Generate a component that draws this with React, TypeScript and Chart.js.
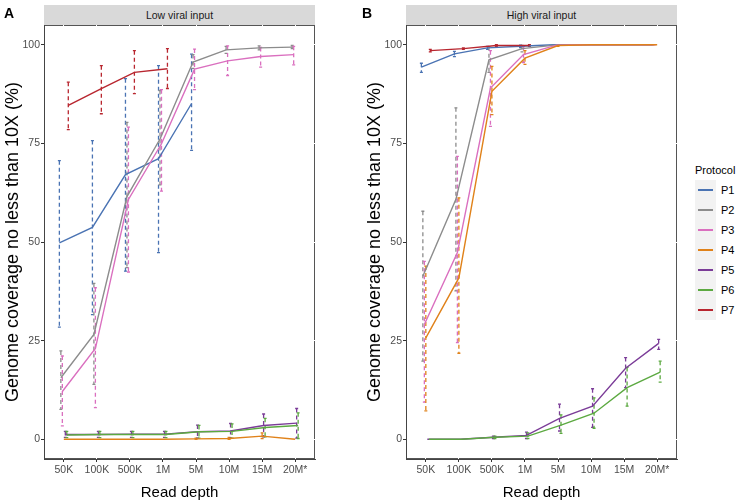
import React, { useEffect, useRef } from 'react';
import { Chart, registerables } from 'chart.js';

Chart.register(...registerables);

// ---------- data ----------
const categories = ['50K', '100K', '500K', '1M', '5M', '10M', '15M', '20M*'];
const protocols = ['P1', 'P2', 'P3', 'P4', 'P5', 'P6', 'P7'];
const colors = ['#4a73b3', '#8c8c8c', '#da6fbf', '#e0821a', '#7b3c98', '#5ca941', '#b8262f'];
const yTickValues = [0, 25, 50, 75, 100];

// Low viral input
const lowP1Mean = [49.8, 53.7, 67.1, 71.1, 85.1, null, null, null];
const lowP1Lo = [28.4, 31.6, 42.6, 47.3, 73.2, null, null, null];
const lowP1Hi = [70.6, 75.7, 91.4, 94.7, 97.6, null, null, null];
const lowP2Mean = [15.6, 26.6, 61.5, 76.1, 95.6, 98.7, 99.2, 99.4];
const lowP2Lo = [7.6, 13.9, 43.5, 64.5, 94.0, 97.8, 98.7, 99.0];
const lowP2Hi = [22.4, 39.5, 80.3, 88.4, 97.5, 99.6, 99.7, 99.8];
const lowP3Mean = [12.1, 23.0, 60.8, 74.9, 93.8, 95.9, 97.0, 97.5];
const lowP3Lo = [3.4, 8.0, 42.4, 62.9, 88.6, 92.2, 94.3, 94.9];
const lowP3Hi = [21.1, 38.4, 79.1, 88.6, 98.9, 99.7, 99.3, 99.6];
const lowP4Mean = [0, 0, 0, 0, 0.1, 0.2, 0.8, 0];
const lowP4Lo = [0, 0, 0, 0, 0, 0, 0.2, 0];
const lowP4Hi = [0, 0, 0, 0, 0.3, 0.5, 1.6, 0];
const lowP5Mean = [1.2, 1.2, 1.3, 1.3, 1.9, 2.1, 3.5, 4.1];
const lowP5Lo = [0.5, 0.5, 0.5, 0.5, 0.3, 0.3, 0.6, 0.3];
const lowP5Hi = [2.0, 2.0, 2.0, 2.0, 3.6, 4.0, 6.4, 7.8];
const lowP6Mean = [1.1, 1.2, 1.2, 1.2, 1.9, 2.0, 3.0, 3.5];
const lowP6Lo = [0.4, 0.4, 0.4, 0.4, 0.3, 0.3, 0.6, 0.2];
const lowP6Hi = [2.0, 2.0, 2.0, 2.0, 3.5, 3.9, 5.3, 6.7];
const lowP7Mean = [84.6, 88.9, 93.0, 93.9, null, null, null, null];
const lowP7Lo = [78.5, 82.5, 87.6, 88.9, null, null, null, null];
const lowP7Hi = [90.5, 94.7, 98.5, 99.0, null, null, null, null];

// High viral input
const highP1Mean = [94.3, 97.7, 99.2, 99.6, 100, 100, 100, 100];
const highP1Lo = [93.0, 97.0, 98.8, 99.3, 100, 100, 100, 100];
const highP1Hi = [95.3, 98.3, 99.6, 99.9, 100, 100, 100, 100];
const highP2Mean = [41.3, 60.8, 96.2, 99.0, 99.9, 100, 100, 100];
const highP2Lo = [19.8, 37.6, 93.0, 98.2, 99.7, 100, 100, 100];
const highP2Hi = [57.8, 84.0, 99.5, 99.8, 100, 100, 100, 100];
const highP3Mean = [29.1, 47.3, 89.0, 97.5, 99.9, 100, 100, 100];
const highP3Lo = [9.4, 24.5, 79.3, 95.5, 99.7, 100, 100, 100];
const highP3Hi = [45.1, 71.7, 98.5, 99.5, 100, 100, 100, 100];
const highP4Mean = [25.7, 40.9, 88.2, 96.6, 99.8, 100, 100, 100];
const highP4Lo = [7.2, 21.8, 82.3, 95.0, 99.6, 100, 100, 100];
const highP4Hi = [43.9, 61.2, 94.5, 98.5, 100, 100, 100, 100];
const highP5Mean = [0, 0, 0.5, 1.0, 5.3, 8.4, 18.0, 24.3];
const highP5Lo = [0, 0, 0.2, 0.2, 2.1, 3.0, 13.1, 22.8];
const highP5Hi = [0, 0, 0.8, 1.8, 8.9, 12.8, 20.7, 25.3];
const highP6Mean = [0, 0, 0.5, 0.8, 3.6, 6.6, 13.1, 17.0];
const highP6Lo = [0, 0, 0.2, 0.2, 1.5, 2.8, 8.4, 14.5];
const highP6Hi = [0, 0, 0.8, 1.6, 6.2, 10.5, 18.2, 19.8];
const highP7Mean = [98.5, 99.0, 99.8, 99.8, null, null, null, null];
const highP7Lo = [98.2, 98.8, 99.6, 99.6, null, null, null, null];
const highP7Hi = [98.8, 99.2, 100, 100, null, null, null, null];

type Arr = (number | null)[];
type Series = { mean: Arr; lo: Arr; hi: Arr };

const lowSeries: Series[] = [
  { mean: lowP1Mean, lo: lowP1Lo, hi: lowP1Hi },
  { mean: lowP2Mean, lo: lowP2Lo, hi: lowP2Hi },
  { mean: lowP3Mean, lo: lowP3Lo, hi: lowP3Hi },
  { mean: lowP4Mean, lo: lowP4Lo, hi: lowP4Hi },
  { mean: lowP5Mean, lo: lowP5Lo, hi: lowP5Hi },
  { mean: lowP6Mean, lo: lowP6Lo, hi: lowP6Hi },
  { mean: lowP7Mean, lo: lowP7Lo, hi: lowP7Hi },
];
const highSeries: Series[] = [
  { mean: highP1Mean, lo: highP1Lo, hi: highP1Hi },
  { mean: highP2Mean, lo: highP2Lo, hi: highP2Hi },
  { mean: highP3Mean, lo: highP3Lo, hi: highP3Hi },
  { mean: highP4Mean, lo: highP4Lo, hi: highP4Hi },
  { mean: highP5Mean, lo: highP5Lo, hi: highP5Hi },
  { mean: highP6Mean, lo: highP6Lo, hi: highP6Hi },
  { mean: highP7Mean, lo: highP7Lo, hi: highP7Hi },
];

const DODGE = 0.045;
const FONT = '"Liberation Sans", Arial, Helvetica, sans-serif';

const panelBorderPlugin = {
  id: 'panelBorder',
  beforeDraw(chart: any) {
    const { ctx, chartArea: a } = chart;
    ctx.save();
    ctx.strokeStyle = '#555555';
    ctx.lineWidth = 1;
    ctx.strokeRect(a.left + 0.5, a.top + 0.5, a.right - a.left - 1, a.bottom - a.top - 1);
    ctx.restore();
  },
};

const errorBarPlugin = {
  id: 'errorBars',
  beforeDatasetsDraw(chart: any) {
    const { ctx } = chart;
    const xs = chart.scales.x;
    const ys = chart.scales.y;
    ctx.save();
    const a = chart.chartArea;
    ctx.beginPath();
    ctx.rect(a.left, a.top, a.right - a.left, a.bottom - a.top);
    ctx.clip();
    chart.data.datasets.forEach((ds: any) => {
      ctx.strokeStyle = ds.borderColor;
      ctx.lineWidth = 1.3;
      ds.errLo.forEach((lo: number | null, i: number) => {
        const hi = ds.errHi[i];
        if (lo == null || hi == null) return;
        if (hi - lo < 0.05) return;
        const x = xs.getPixelForValue(i + 1 + ds.dodge);
        const y1 = ys.getPixelForValue(hi);
        const y2 = ys.getPixelForValue(lo);
        ctx.setLineDash([4, 3]);
        ctx.beginPath();
        ctx.moveTo(x, y1);
        ctx.lineTo(x, y2);
        ctx.stroke();
        ctx.setLineDash([]);
        ctx.beginPath();
        ctx.moveTo(x - 1.5, y1);
        ctx.lineTo(x + 1.5, y1);
        ctx.moveTo(x - 1.5, y2);
        ctx.lineTo(x + 1.5, y2);
        ctx.stroke();
      });
    });
    ctx.restore();
  },
};

function buildDatasets(series: Series[]) {
  return series.map((s, k) => {
    const dodge = (k - 3) * DODGE;
    const data: { x: number; y: number }[] = [];
    s.mean.forEach((v, i) => {
      if (v != null) data.push({ x: i + 1 + dodge, y: v });
    });
    return {
      label: protocols[k],
      data,
      borderColor: colors[k],
      backgroundColor: colors[k],
      borderWidth: 1.4,
      pointRadius: 0,
      tension: 0,
      order: 7 - k,
      errLo: s.lo,
      errHi: s.hi,
      dodge,
    } as any;
  });
}

function Panel({ left, series, strip, letter }: { left: number; series: Series[]; strip: string; letter: string }) {
  const ref = useRef<HTMLCanvasElement | null>(null);
  useEffect(() => {
    if (!ref.current) return;
    const chart = new Chart(ref.current, {
      type: 'line',
      data: { datasets: buildDatasets(series) },
      options: {
        animation: false,
        responsive: false,
        devicePixelRatio: 1,
        layout: { padding: { top: 25, right: 5, left: 0, bottom: 0 } },
        plugins: { legend: { display: false }, tooltip: { enabled: false }, title: { display: false } },
        scales: {
          x: {
            type: 'linear',
            min: 0.4,
            max: 8.6,
            afterBuildTicks: (axis: any) => {
              axis.ticks = categories.map((_, i) => ({ value: i + 1 }));
            },
            afterFit: (scale: any) => {
              scale.height = 45;
            },
            ticks: {
              autoSkip: false,
              maxRotation: 0,
              padding: 2,
              color: '#4d4d4d',
              font: { family: FONT, size: 10.5 },
              callback: (v: any) => categories[Math.round(Number(v)) - 1] ?? '',
            },
            grid: { color: '#ffffff', tickColor: '#333333', tickLength: 3, lineWidth: 1 },
            border: { display: true, color: '#444444', width: 1 },
            title: {
              display: true,
              text: 'Read depth',
              color: '#000000',
              font: { family: FONT, size: 15 },
              padding: { top: 0, bottom: 2 },
            },
          },
          y: {
            type: 'linear',
            min: -5,
            max: 105,
            afterBuildTicks: (axis: any) => {
              axis.ticks = yTickValues.map((v) => ({ value: v }));
            },
            afterFit: (scale: any) => {
              scale.width = 44;
            },
            ticks: {
              padding: 1,
              color: '#4d4d4d',
              font: { family: FONT, size: 10.5 },
              callback: (v: any) => String(v),
            },
            grid: { color: '#ffffff', tickColor: '#333333', tickLength: 3, lineWidth: 1 },
            border: { display: true, color: '#444444', width: 1 },
            title: {
              display: true,
              text: 'Genome coverage no less than 10X (%)',
              color: '#000000',
              font: { family: FONT, size: 18 },
              padding: { top: 2, bottom: 0 },
            },
          },
        },
      },
      plugins: [panelBorderPlugin, errorBarPlugin],
    } as any);
    return () => chart.destroy();
  }, [series]);

  return (
    <>
      <canvas
        ref={ref}
        width={320}
        height={504}
        style={{ position: 'absolute', left, top: 0, width: 320, height: 504 }}
      />
      <div
        style={{
          position: 'absolute',
          left: left + 44,
          top: 5,
          width: 271,
          height: 20,
          background: '#d9d9d9',
          color: '#1a1a1a',
          fontSize: 10.5,
          lineHeight: '20px',
          textAlign: 'center',
          fontFamily: FONT,
        }}
      >
        {strip}
      </div>
      <div
        style={{
          position: 'absolute',
          left: letter === 'A' ? 4 : 362,
          top: 6,
          fontSize: 14,
          lineHeight: '14px',
          fontWeight: 'bold',
          fontFamily: FONT,
          color: '#000',
        }}
      >
        {letter}
      </div>
    </>
  );
}

export default function App() {
  return (
    <div
      style={{
        position: 'absolute',
        left: 0,
        top: 0,
        width: 736,
        height: 504,
        background: '#ffffff',
        fontFamily: FONT,
        overflow: 'hidden',
      }}
    >
      <Panel left={0} series={lowSeries} strip="Low viral input" letter="A" />
      <Panel left={362} series={highSeries} strip="High viral input" letter="B" />
      <div
        style={{
          position: 'absolute',
          left: 695,
          top: 163,
          fontSize: 11,
          lineHeight: '14px',
          color: '#000',
          fontFamily: FONT,
        }}
      >
        Protocol
      </div>
      {protocols.map((p, k) => (
        <div key={p} style={{ position: 'absolute', left: 695, top: 180 + k * 20, height: 20, width: 40 }}>
          <div style={{ position: 'absolute', left: 0, top: 0, width: 21, height: 20, background: '#f2f2f2' }} />
          <div
            style={{
              position: 'absolute',
              left: 3,
              top: 9,
              width: 15,
              height: 0,
              borderTop: `2px solid ${colors[k]}`,
            }}
          />
          <div
            style={{
              position: 'absolute',
              left: 26,
              top: 3,
              fontSize: 11,
              lineHeight: '14px',
              color: '#000',
              fontFamily: FONT,
            }}
          >
            {p}
          </div>
        </div>
      ))}
    </div>
  );
}
